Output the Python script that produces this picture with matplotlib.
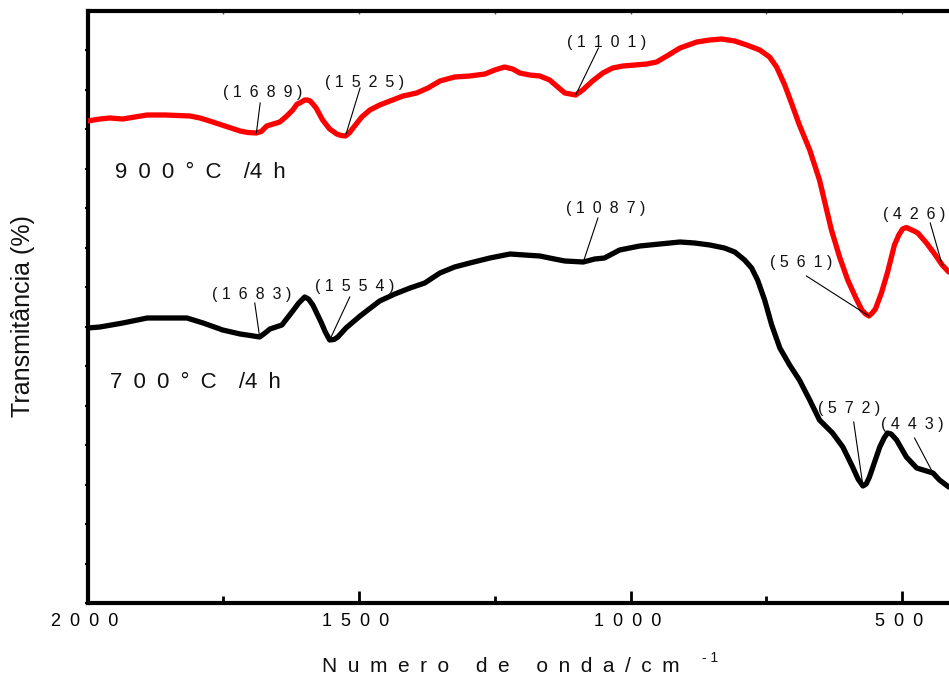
import numpy as np
import matplotlib
matplotlib.use("Agg")
import matplotlib.pyplot as plt
import matplotlib.transforms as mtransforms

plt.rcParams['font.family'] = ['Liberation Sans', 'DejaVu Sans']

EN = "\u2002"  # en space used for the letter-spaced lettering

# FTIR spectra (wavenumber in cm^-1, transmittance in arbitrary units)
wn_900 = [2000, 1977, 1959, 1935, 1913, 1890, 1857, 1811, 1793, 1775,
          1747, 1719, 1705, 1689, 1680, 1670, 1646, 1633, 1622, 1614,
          1609, 1600, 1595, 1590, 1585, 1579, 1567, 1554, 1541, 1533,
          1525, 1518, 1511, 1495, 1480, 1462, 1443,
          1419, 1394, 1373, 1351, 1324, 1296, 1268, 1250, 1232, 1217,
          1204, 1186, 1167, 1149, 1134, 1121, 1111, 1101, 1088, 1070, 1051,
          1033, 1014, 992, 970, 952, 933, 909, 878, 854, 832,
          808, 786, 762, 744, 731, 716, 703, 689, 670, 652,
          641, 630, 615, 600, 585, 574, 567, 561, 555, 549, 538, 527,
          514, 506, 499, 492, 486, 478, 471, 455, 440, 426, 414]
t_900 = [482, 484, 485, 484, 486, 488, 488, 487, 485, 482,
         477, 472, 470.5, 470, 471.5, 477, 481, 487, 493, 499,
         500, 503, 503, 502, 499, 495, 483, 474, 469, 467.5,
         467, 470, 475, 486, 493, 498, 502,
         507, 510, 515, 522, 526, 527, 529, 533, 536, 534,
         530, 528, 527, 523, 516, 510, 509, 508, 513, 522, 530,
         535, 537, 538, 539, 541, 547, 555, 561, 563, 564,
         562, 558, 553, 546, 536, 518, 499, 478, 453, 423,
         398, 373, 346, 323, 305, 293, 289, 287, 290, 294, 310, 330,
         358, 368, 374, 375.5, 374, 372, 370, 360, 349, 338, 331]

wn_700 = [2000, 1977, 1935, 1890, 1857, 1817, 1787, 1751, 1719, 1700,
          1683, 1673, 1664, 1642, 1622, 1611, 1600, 1593, 1585, 1570,
          1562, 1554, 1546, 1539, 1524, 1498,
          1462, 1434, 1406, 1379, 1351, 1324, 1296, 1259, 1222, 1195,
          1167, 1140, 1121, 1087, 1066, 1048, 1020, 983, 946, 909,
          882, 854, 827, 808, 790, 777, 766, 753, 740, 725,
          707, 689, 670, 652, 628, 609, 591, 581, 572, 566, 560, 541,
          533, 527, 520, 510, 492, 473, 443, 431, 414]
t_700 = [275, 276, 280, 285, 285, 285, 280, 273, 269, 267.5,
         266, 270, 274, 278, 292, 300, 306, 304, 298, 281,
         271, 263, 263.5, 266, 275, 287,
         302, 309, 315, 320, 330, 336, 340, 345, 349, 348,
         347, 344, 342, 341, 344, 345, 353, 357, 359, 361,
         360, 358, 355, 351, 343, 335, 323, 303, 278, 255,
         238, 223, 203, 183, 170, 156, 136, 124, 117, 119, 126, 156,
         165, 170, 169, 163, 146, 135, 130, 123, 116]

peaks_900 = [1689, 1525, 1101, 561, 426]
peaks_700 = [1683, 1554, 1087, 572, 443]

sample_900 = "900°C /4h"
sample_700 = "700°C /4h"

x_major = [2000, 1500, 1000, 500]
x_minor = [1750, 1250, 750]

# label placement: text centre (x, y) and leader-line start (x, y), data units
place_900 = [(1677, 510, 1682, 500), (1489, 521, 1498, 515), (1044, 560, 1059, 555),
             (685, 340, 676, 327), (477, 388, 448, 380)]
place_700 = [(1697, 309, 1692, 300), (1508, 316, 1517, 306), (1046, 394, 1060, 385),
             (597, 195, 589, 181), (481, 178, 477, 165)]


def spaced(s):
    return EN.join(s)


def peak_label(v):
    return "( " + spaced(str(v)) + " )"


def sample_label(s):
    temp, dur = s.split(" ")
    return spaced(temp) + EN + EN + dur[0] + spaced(dur[1:])


fig = plt.figure(figsize=(9.49, 6.79), dpi=100)
ax = fig.add_axes([87.5 / 949, 76 / 679, 1 - 87.5 / 949, 592 / 679])

ax.plot(wn_900, t_900, color="#ff0000", lw=3.8, solid_joinstyle="round",
        solid_capstyle="round", zorder=3)
ax.plot(wn_700, t_700, color="black", lw=3.8, solid_joinstyle="round",
        solid_capstyle="round", zorder=3)

for wn, tt, peaks, places in ((wn_900, t_900, peaks_900, place_900),
                              (wn_700, t_700, peaks_700, place_700)):
    for p, (tx, ty, lx, ly) in zip(peaks, places):
        py = tt[wn.index(p)]
        ax.plot([lx, p], [ly, py], color="black", lw=0.8, zorder=4)
        ax.text(tx, ty, peak_label(p), ha="center", va="center",
                fontsize=11.5, color="#111111", zorder=5)

ax.text(1949, 430, sample_label(sample_900), ha="left", va="center",
        fontsize=16, color="#111111")
ax.text(1959, 221, sample_label(sample_700), ha="left", va="center",
        fontsize=16, color="#111111")

ax.set_xlim(2000, 413.5)
ax.set_ylim(0, 592)

ax.set_xticks(x_major)
ax.set_xticklabels([spaced(str(v)) for v in x_major], fontsize=13)
ax.set_xticks(x_minor, minor=True)
ax.tick_params(axis="x", which="major", direction="in", length=8.5, width=2, pad=7.5)
ax.tick_params(axis="x", which="minor", direction="in", length=5, width=2)
shift = mtransforms.ScaledTranslation(-3 / 100, 0, fig.dpi_scale_trans)
for lbl in ax.get_xticklabels():
    lbl.set_transform(lbl.get_transform() + shift)

ax.set_yticks(np.arange(0, 592, 39.5))
ax.set_yticklabels([])
ax.tick_params(axis="y", which="major", direction="out", length=2, width=1.5)

top = ax.secondary_xaxis("top")
top.set_xticks(x_major + x_minor)
top.set_xticklabels([])
top.tick_params(direction="in", length=2.5, width=1, color="#555555")
top.spines["top"].set_visible(False)

for side in ("left", "bottom", "top"):
    ax.spines[side].set_linewidth(3)
ax.spines["right"].set_visible(False)

fig.text(322 / 949, 7 / 679, EN.join("Numero") + EN + " " + EN + EN.join("de") + EN + " " + EN
         + EN.join("onda/") + EN + EN.join("cm"), ha="left", va="baseline", fontsize=15,
         color="#111111")
fig.text(702 / 949, 17 / 679, "- 1", ha="left", va="baseline", fontsize=10, color="#111111")
fig.text(23 / 949, 1 - 316 / 679, "Transmitância (%)", rotation=90, ha="center",
         va="center", fontsize=18, color="#111111")

fig.savefig("out.png", dpi=100)
